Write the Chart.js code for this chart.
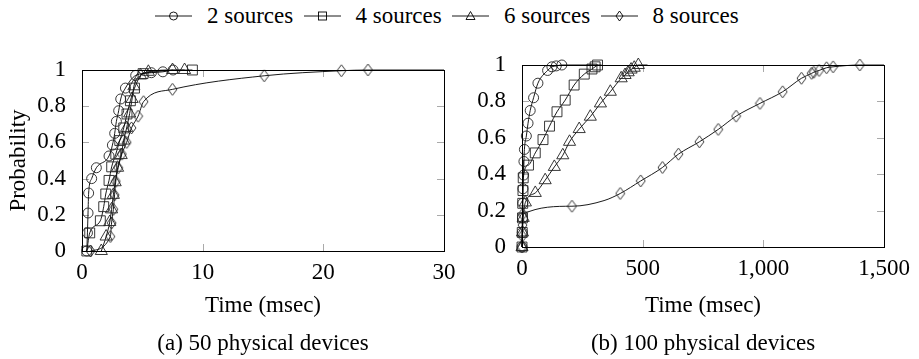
<!DOCTYPE html>
<html>
<head>
<meta charset="utf-8">
<script src="https://cdn.jsdelivr.net/npm/chart.js@4"></script>
<style>
  body { margin: 0; background: #fff; width: 919px; height: 359px; position: relative; overflow: hidden;
         font-family: "Liberation Serif", "Times New Roman", serif; color: #000; }
  canvas { position: absolute; top: 0; }
  #chartA { left: 0; }
  #chartB { left: 460px; }
  .legend-item { position: absolute; top: 2px; height: 28px; display: flex; align-items: center; font-size: 23px; white-space: nowrap; }
  .legend-item svg { margin-right: 15px; }
  .caption { position: absolute; top: 330px; font-size: 23px; white-space: nowrap; transform: translateX(-50%); }
</style>
</head>
<body>
<div id="legend"></div>
<canvas id="chartA" width="460" height="359"></canvas>
<canvas id="chartB" width="459" height="359"></canvas>
<div class="caption" style="left:263px">(a) 50 physical devices</div>
<div class="caption" style="left:703px">(b) 100 physical devices</div>
<script>
const seriesLabels = ["2 sources", "4 sources", "6 sources", "8 sources"];
const axisTitleX = "Time (msec)";
const axisTitleY = "Probability";
const yTicks = [0, 0.2, 0.4, 0.6, 0.8, 1];
const xTicksA = [0, 10, 20, 30];
const xTicksB = [0, 500, 1000, 1500];

// (a) 50 physical devices
const a2x = [0.4, 0.45, 0.5, 0.55, 0.8, 1.19, 2.24, 2.52, 2.71, 2.85, 3.04, 3.21, 3.6, 4.45, 5.75, 6.7, 7.55];
const a2y = [0, 0.1, 0.21, 0.32, 0.40, 0.46, 0.525, 0.585, 0.65, 0.716, 0.775, 0.84, 0.90, 0.97, 0.985, 0.99, 1.0];
const a4x = [0.4, 0.64, 1.52, 1.8, 1.97, 2.24, 2.46, 2.8, 3.13, 3.46, 3.73, 4.01, 4.35, 5.06, 9.15];
const a4y = [0, 0.1, 0.167, 0.245, 0.315, 0.39, 0.465, 0.535, 0.61, 0.68, 0.757, 0.83, 0.90, 0.98, 1.0];
const a6x = [1.6, 2.0, 2.3, 2.45, 2.6, 2.75, 2.95, 3.25, 3.45, 3.7, 3.95, 4.15, 4.3, 4.85, 5.5, 7.5, 8.5];
const a6y = [0, 0.08, 0.16, 0.23, 0.31, 0.38, 0.46, 0.53, 0.61, 0.68, 0.76, 0.84, 0.91, 0.97, 0.99, 1, 1];
const a8x = [0.7, 2.35, 2.45, 2.6, 2.7, 2.8, 3.0, 3.3, 3.7, 4.1, 4.65, 5.1, 7.5, 15.1, 21.5, 23.7, 30];
const a8y = [0, 0.08, 0.155, 0.23, 0.31, 0.385, 0.46, 0.535, 0.6, 0.68, 0.745, 0.825, 0.893, 0.968, 0.996, 1.0, 1.0];
const a8Unmarked = [16];

// (b) 100 physical devices
const b2x = [0, 1, 2, 3, 4, 6.6, 8, 10, 18, 25, 34, 48, 66, 106, 124, 142, 165, 330];
const b2y = [0, 0.08, 0.16, 0.24, 0.32, 0.395, 0.47, 0.536, 0.61, 0.68, 0.75, 0.82, 0.90, 0.97, 0.99, 0.995, 1.0, 1.0];
const b2Unmarked = [17];
const b4x = [0, 1, 2, 3, 4, 5, 27, 55, 87, 114, 145, 179, 216, 258, 290, 303, 313];
const b4y = [0, 0.08, 0.16, 0.24, 0.31, 0.38, 0.45, 0.517, 0.59, 0.664, 0.743, 0.807, 0.89, 0.95, 0.978, 0.99, 1.0];
const b6x = [0, 2, 5, 14, 55, 96, 134, 169, 197, 237, 283, 325, 366, 411, 427, 440, 452, 465, 482, 520];
const b6y = [0, 0.08, 0.16, 0.245, 0.297, 0.367, 0.44, 0.504, 0.578, 0.648, 0.716, 0.789, 0.853, 0.927, 0.945, 0.96, 0.975, 0.985, 1.0, 1.0];
const b6Unmarked = [19];
const b8x = [0, 1, 2, 3, 207, 340, 407, 492, 582, 648, 735, 813, 887, 986, 1080, 1158, 1200, 1209, 1231, 1262, 1289, 1400, 1500];
const b8y = [0, 0.06, 0.12, 0.18, 0.224, 0.255, 0.294, 0.363, 0.437, 0.51, 0.578, 0.646, 0.719, 0.789, 0.853, 0.927, 0.954, 0.96, 0.97, 0.985, 0.99, 1.0, 1.0];
const b8Unmarked = [5, 22];

// pgfplots style diamond: a bit taller than wide
function diamondImage() {
    const c = document.createElement("canvas");
    c.width = 11;
    c.height = 14;
    const g = c.getContext("2d");
    g.strokeStyle = "#222";
    g.lineWidth = 0.9;
    g.beginPath();
    g.moveTo(5.5, 1);
    g.lineTo(10, 7);
    g.lineTo(5.5, 13);
    g.lineTo(1, 7);
    g.closePath();
    g.stroke();
    return c;
}

const markers = [
    {style: "circle", radius: 5},
    {style: "rect", radius: 7},
    {style: "triangle", radius: 7},
    {style: diamondImage(), radius: 6},
];

Chart.defaults.font.family = "'Liberation Serif', 'Times New Roman', serif";
Chart.defaults.font.size = 23;
Chart.defaults.color = "#000";

function makeDataset(i, xs, ys, unmarked = []) {
    return {
        label: seriesLabels[i],
        data: xs.map((x, k) => ({x: x, y: ys[k]})),
        showLine: true,
        borderColor: "#000",
        borderWidth: 0.9,
        backgroundColor: "rgba(0,0,0,0)",
        pointStyle: markers[i].style,
        pointRadius: (ctx) => unmarked.includes(ctx.dataIndex) ? 0 : markers[i].radius,
        pointBorderWidth: 0.9,
        pointBorderColor: "#222",
        cubicInterpolationMode: "monotone",
        clip: false,
    };
}

// frame around the plot and small inward ticks on all four sides
const framePlugin = {
    id: "frame",
    beforeDatasetsDraw(chart) {
        const {ctx, chartArea: a, scales} = chart;
        ctx.save();
        ctx.strokeStyle = "#aaa";
        ctx.lineWidth = 1;
        ctx.beginPath();
        scales.x.ticks.forEach((t) => {
            const px = Math.round(scales.x.getPixelForValue(t.value)) + 0.5;
            if (px <= a.left + 1 || px >= a.right - 1) return;
            ctx.moveTo(px, a.bottom); ctx.lineTo(px, a.bottom - 7);
            ctx.moveTo(px, a.top); ctx.lineTo(px, a.top + 7);
        });
        scales.y.ticks.forEach((t) => {
            const py = Math.round(scales.y.getPixelForValue(t.value)) + 0.5;
            if (py <= a.top + 1 || py >= a.bottom - 1) return;
            ctx.moveTo(a.left, py); ctx.lineTo(a.left + 7, py);
            ctx.moveTo(a.right, py); ctx.lineTo(a.right - 7, py);
        });
        ctx.stroke();
        ctx.restore();
    },
    afterDatasetsDraw(chart) {
        const {ctx, chartArea: a} = chart;
        ctx.save();
        ctx.strokeStyle = "#000";
        ctx.lineWidth = 1;
        ctx.strokeRect(Math.round(a.left) + 0.5, Math.round(a.top) + 0.5,
            Math.round(a.right - a.left), Math.round(a.bottom - a.top));
        ctx.restore();
    },
};

function makeChart(id, datasets, xTicks, opts) {
    return new Chart(document.getElementById(id), {
        type: "scatter",
        data: {datasets: datasets},
        plugins: [framePlugin],
        options: {
            responsive: false,
            animation: false,
            devicePixelRatio: 1,
            layout: {padding: {left: 0, top: opts.top, right: opts.right, bottom: 0}},
            plugins: {legend: {display: false}, tooltip: {enabled: false}},
            scales: {
                x: {
                    type: "linear",
                    min: xTicks[0],
                    max: xTicks[xTicks.length - 1],
                    afterBuildTicks: (s) => { s.ticks = xTicks.map((v) => ({value: v})); },
                    afterFit: (s) => { s.height = opts.xHeight; },
                    grid: {display: false},
                    border: {display: false},
                    ticks: {padding: 0, callback: (v) => v.toLocaleString("en-US")},
                    title: {display: true, text: axisTitleX, padding: {top: 0, bottom: 39}},
                },
                y: {
                    type: "linear",
                    min: 0,
                    max: 1,
                    afterBuildTicks: (s) => { s.ticks = yTicks.map((v) => ({value: v})); },
                    afterFit: (s) => { s.width = opts.yWidth; },
                    grid: {display: false},
                    border: {display: false},
                    ticks: {padding: 8, callback: (v) => String(v)},
                    title: {display: opts.yTitle, text: axisTitleY, padding: {top: 5, bottom: 0}},
                },
            },
        },
    });
}

makeChart("chartA", [
    makeDataset(0, a2x, a2y),
    makeDataset(1, a4x, a4y),
    makeDataset(2, a6x, a6y),
    makeDataset(3, a8x, a8y, a8Unmarked),
], xTicksA, {top: 70, right: 16, xHeight: 108, yWidth: 82, yTitle: true});

makeChart("chartB", [
    makeDataset(0, b2x, b2y, b2Unmarked),
    makeDataset(1, b4x, b4y),
    makeDataset(2, b6x, b6y, b6Unmarked),
    makeDataset(3, b8x, b8y, b8Unmarked),
], xTicksB, {top: 65, right: 35, xHeight: 112, yWidth: 62, yTitle: false});

// shared legend
const legendShapes = [
    '<circle cx="18.5" cy="14" r="4" fill="none" stroke="#000" stroke-width="0.9"/>',
    '<rect x="14.5" y="10" width="8" height="8" fill="none" stroke="#000" stroke-width="0.9"/>',
    '<polygon points="18.5,9.5 23,17.5 14,17.5" fill="none" stroke="#000" stroke-width="0.9"/>',
    '<polygon points="18.5,9 22,14 18.5,19 15,14" fill="none" stroke="#000" stroke-width="0.9"/>',
];
const legend = document.getElementById("legend");
seriesLabels.forEach((label, i) => {
    const item = document.createElement("div");
    item.className = "legend-item";
    item.style.left = (155 + 148.5 * i) + "px";
    item.innerHTML = '<svg width="37" height="28"><line x1="0" y1="14" x2="37" y2="14" stroke="#000" stroke-width="0.9"/>'
        + legendShapes[i] + '</svg><span>' + label + '</span>';
    legend.appendChild(item);
});
</script>
</body>
</html>
